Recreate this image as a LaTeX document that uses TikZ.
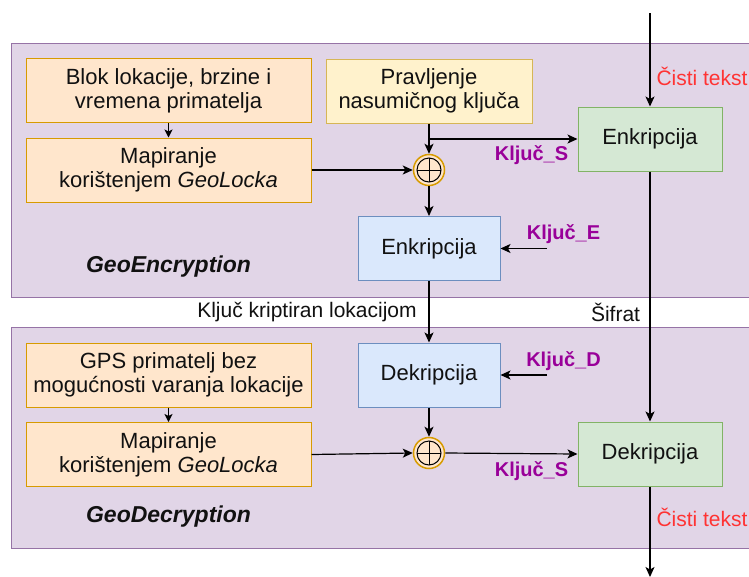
\documentclass[tikz,border=0pt]{standalone}
\usepackage{fontspec}
\setmainfont{Liberation Sans}
\usetikzlibrary{arrows.meta}
\definecolor{bgfill}{HTML}{E1D5E7}
\definecolor{bgdraw}{HTML}{9673A6}
\definecolor{orfill}{HTML}{FFE6CC}
\definecolor{ordraw}{HTML}{D79B00}
\definecolor{yefill}{HTML}{FFF2CC}
\definecolor{yedraw}{HTML}{D6B656}
\definecolor{grfill}{HTML}{D5E8D4}
\definecolor{grdraw}{HTML}{82B366}
\definecolor{blfill}{HTML}{DAE8FC}
\definecolor{bldraw}{HTML}{6C8EBF}
\definecolor{keycol}{HTML}{990099}
\definecolor{redtxt}{HTML}{FF3333}
\definecolor{txt}{HTML}{111111}
\tikzset{
  basefont/.style={font=\fontsize{21}{24}\selectfont},
  boxfont/.style={font=\fontsize{22}{24}\selectfont},
  box/.style={rectangle, line width=1pt, align=center, inner sep=0pt, text=txt, boxfont},
  orbox/.style={box, draw=ordraw, fill=orfill, minimum width=285pt, minimum height=64pt},
  yebox/.style={box, draw=yedraw, fill=yefill, minimum width=206pt, minimum height=64pt},
  grbox/.style={box, draw=grdraw, fill=grfill, minimum width=144pt, minimum height=64pt},
  blbox/.style={box, draw=bldraw, fill=blfill, minimum width=142pt, minimum height=64pt},
  region/.style={draw=bgdraw, fill=bgfill, line width=1pt},
  xorc/.style={circle, draw=ordraw, fill=orfill, line width=1.5pt, minimum size=31pt, inner sep=0pt,
    path picture={\draw[black, line width=1pt] (path picture bounding box.center) circle (12pt);
      \draw[black, line width=1pt] ([xshift=-12pt]path picture bounding box.center) -- ([xshift=12pt]path picture bounding box.center);
      \draw[black, line width=1pt] ([yshift=-12pt]path picture bounding box.center) -- ([yshift=12pt]path picture bounding box.center);}},
  arr/.style={draw=black, line width=1.2pt, -{Stealth[length=10pt,width=9pt,inset=2.5pt]}},
  shortarr/.style={draw=black, line width=1.2pt, -{Stealth[length=8pt,width=8pt,inset=2pt]}},
  keylbl/.style={font=\fontsize{20}{24}\selectfont\bfseries, text=keycol, inner sep=0pt},
  redlbl/.style={basefont, text=redtxt, inner sep=0pt},
  plainlbl/.style={basefont, text=txt, inner sep=0pt},
  titlelbl/.style={font=\fontsize{23}{26}\selectfont\bfseries\itshape, text=txt, inner sep=0pt},
}
\begin{document}
\begin{tikzpicture}[x=1pt,y=-1pt]
\useasboundingbox (0,0) rectangle (749,576);
\clip (0,0) rectangle (749,576);
\fill[white] (0,0) rectangle (749,576);
% regions
\draw[region] (11,43) rectangle (770,297);
\draw[region] (11,327) rectangle (770,548);
% top boxes
\node[orbox] (blok) at (168.5,90.5) {Blok lokacije, brzine i\\vremena primatelja};
\node[orbox] (map1) at (168.5,170) {Mapiranje\\korištenjem \textit{GeoLocka}};
\node[yebox] (prav) at (429,91) {Pravljenje\\nasumičnog ključa};
\node[grbox] (genc) at (650,139) {Enkripcija};
\node[xorc] (xor1) at (429,170) {};
\node[blbox] (benc) at (429,248.5) {Enkripcija};
\node[titlelbl] (geoenc) at (168.5,267) {GeoEncryption};
% bottom boxes
\node[orbox] (gps) at (168.5,375) {GPS primatelj bez\\mogućnosti varanja lokacije};
\node[orbox] (map2) at (168.5,454.5) {Mapiranje\\korištenjem \textit{GeoLocka}};
\node[blbox] (bdec) at (429,375) {Dekripcija};
\node[xorc] (xor2) at (429,453) {};
\node[grbox] (gdec) at (650,454) {Dekripcija};
\node[titlelbl] (geodec) at (168.5,517) {GeoDecryption};
% labels
\node[redlbl] (ct1) at (702,76) {Čisti tekst};
\node[redlbl] (ct2) at (702,517) {Čisti tekst};
\node[keylbl] (ks1) at (531.5,155) {Ključ\_S};
\node[keylbl] (ks2) at (531.5,471) {Ključ\_S};
\node[keylbl] (ke) at (563.5,234) {Ključ\_E};
\node[keylbl] (kd) at (563.5,361) {Ključ\_D};
\node[plainlbl] (kkl) at (307,312) {Ključ kriptiran lokacijom};
\node[plainlbl] (sif) at (615.5,312) {Šifrat};
% coordinates
\coordinate (inTop) at (650,13);
\coordinate (outBot) at (650,577);
\coordinate (keSrc) at (547,248.5);
\coordinate (kdSrc) at (547,375);
% connectors
\draw[arr] (inTop) -- (genc.north);
\draw[shortarr] (blok.south) -- (map1.north);
\draw[arr] (prav.south) -- (xor1.north);
\draw[arr] (prav.south |- genc.west) -- (genc.west);
\draw[arr] (map1.east) -- (xor1.west);
\draw[arr] (xor1.south) -- (benc.north);
\draw[arr] (keSrc) -- (benc.east);
\draw[arr] (benc.south) -- (bdec.north);
\draw[arr] (genc.south) -- (gdec.north);
\draw[arr] (kdSrc) -- (bdec.east);
\draw[shortarr] (gps.south) -- (map2.north);
\draw[arr] (bdec.south) -- (xor2.north);
\draw[arr] (map2.east) -- (xor2.west);
\draw[arr] (xor2.east) -- (gdec.west);
\draw[arr] (gdec.south) -- (outBot);
\end{tikzpicture}
\end{document}
